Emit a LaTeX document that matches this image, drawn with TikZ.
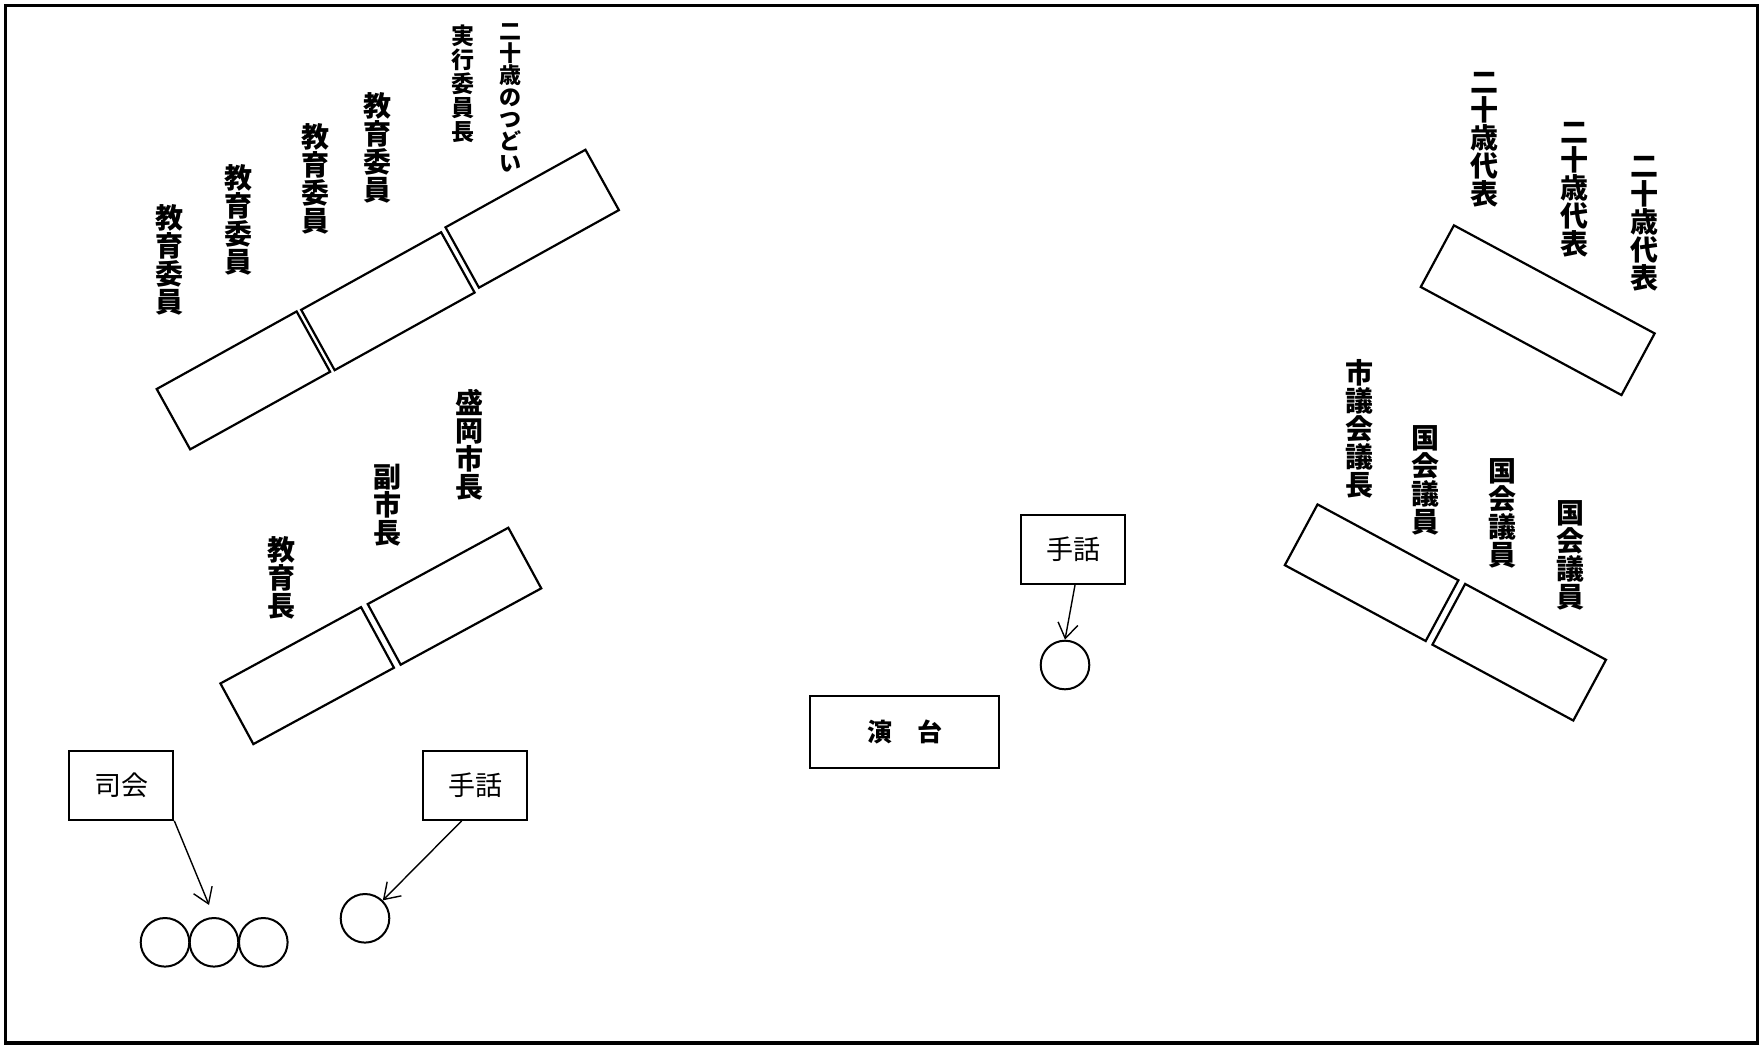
\documentclass[tikz,border=0pt]{standalone}
\usepackage{fontspec}
\newfontfamily\jp{Noto Sans CJK JP}
\usetikzlibrary{arrows.meta}
\begin{document}
\begin{tikzpicture}[x=1pt,y=-1pt,
  lbl/.style={font=\jp\bfseries\fontsize{28}{28}\selectfont, align=center, inner sep=0pt},
  lblsmall/.style={font=\jp\bfseries\fontsize{23}{24}\selectfont, align=center, inner sep=0pt},
  lbltiny/.style={font=\jp\bfseries\fontsize{22}{22}\selectfont, align=center, inner sep=0pt},
  bench/.style={draw, line width=2.2pt, minimum width=160pt, minimum height=69pt, inner sep=0pt},
  tagbox/.style={draw, line width=2pt, minimum width=104pt, minimum height=69pt, inner sep=0pt, font=\jp\fontsize{27}{27}\selectfont},
  seat/.style={draw, circle, line width=2pt, minimum size=48.6pt, inner sep=0pt},
  pointer/.style={line width=1.4pt, -{Straight Barb[length=15pt,width=20pt,line width=1.4pt]}}
]
\useasboundingbox (0,0) rectangle (1760,1045);
\draw[line width=3.3pt] (5.7,5.5) rectangle (1757.5,1043);

% left top benches
\node[bench, rotate=29] (bA) at (243.4,380.4) {};
\node[bench, rotate=29] (bB) at (387.9,301.2) {};
\node[bench, rotate=29] (bC) at (532.2,218.7) {};
% left middle benches
\node[bench, rotate=28.5] (bD) at (307.2,675.6) {};
\node[bench, rotate=28.5] (bE) at (454.5,596.2) {};
% right top bench
\node[bench, rotate=-28.3, minimum width=228pt, minimum height=70pt] (bR) at (1537.7,310.2) {};
% right lower benches
\node[bench, rotate=-28.3] (bF) at (1371.6,572.7) {};
\node[bench, rotate=-28.3] (bG) at (1519.2,652.2) {};

% labels left top
\node[lbl] (l1) at (169.2,259.5) {教\\育\\委\\員};
\node[lbl] (l2) at (238.3,220) {教\\育\\委\\員};
\node[lbl] (l3) at (315.8,179.2) {教\\育\\委\\員};
\node[lbl] (l4) at (377.5,148.3) {教\\育\\委\\員};
\node[lblsmall] (l5) at (462.5,83.5) {実\\行\\委\\員\\長};
\node[lbltiny] (l6) at (510.8,98) {二\\十\\歳\\の\\つ\\ど\\い};
% labels left middle
\node[lbl] (l7) at (469.2,445) {盛\\岡\\市\\長};
\node[lbl] (l8) at (387.5,505) {副\\市\\長};
\node[lbl] (l9) at (281.7,578.3) {教\\育\\長};
% labels right
\node[lbl] (r1) at (1484.2,140) {二\\十\\歳\\代\\表};
\node[lbl] (r2) at (1574.2,190) {二\\十\\歳\\代\\表};
\node[lbl] (r3) at (1644.2,223.5) {二\\十\\歳\\代\\表};
\node[lbl] (r4) at (1359.2,429.2) {市\\議\\会\\議\\長};
\node[lbl] (r5) at (1425.8,480.8) {国\\会\\議\\員};
\node[lbl] (r6) at (1502.5,513) {国\\会\\議\\員};
\node[lbl] (r7) at (1570.8,555) {国\\会\\議\\員};

% podium
\node[draw, line width=2pt, minimum width=189pt, minimum height=72pt, inner sep=0pt,
      font=\jp\bfseries\fontsize{25}{25}\selectfont] (podium) at (904.5,732.2) {演　台};

% tag boxes
\node[tagbox] (shikai) at (121.3,785.3) {司会};
\node[tagbox] (shuwaL) at (475,785.3) {手話};
\node[tagbox] (shuwaM) at (1073,549.5) {手話};

% seats
\node[seat] (s1) at (165,942.3) {};
\node[seat] (s2) at (214,942.3) {};
\node[seat] (s3) at (263.3,942.3) {};
\node[seat] (s4) at (365,918.3) {};
\node[seat] (s5) at (1065,665) {};

% pointers
\draw[pointer, shorten >=13pt] (shikai.south east) -- (s2.north);
\draw[pointer] ([xshift=-13.3pt]shuwaL.south) -- (s4);
\draw[pointer] ([xshift=2pt]shuwaM.south) -- (s5.north);
\end{tikzpicture}
\end{document}
